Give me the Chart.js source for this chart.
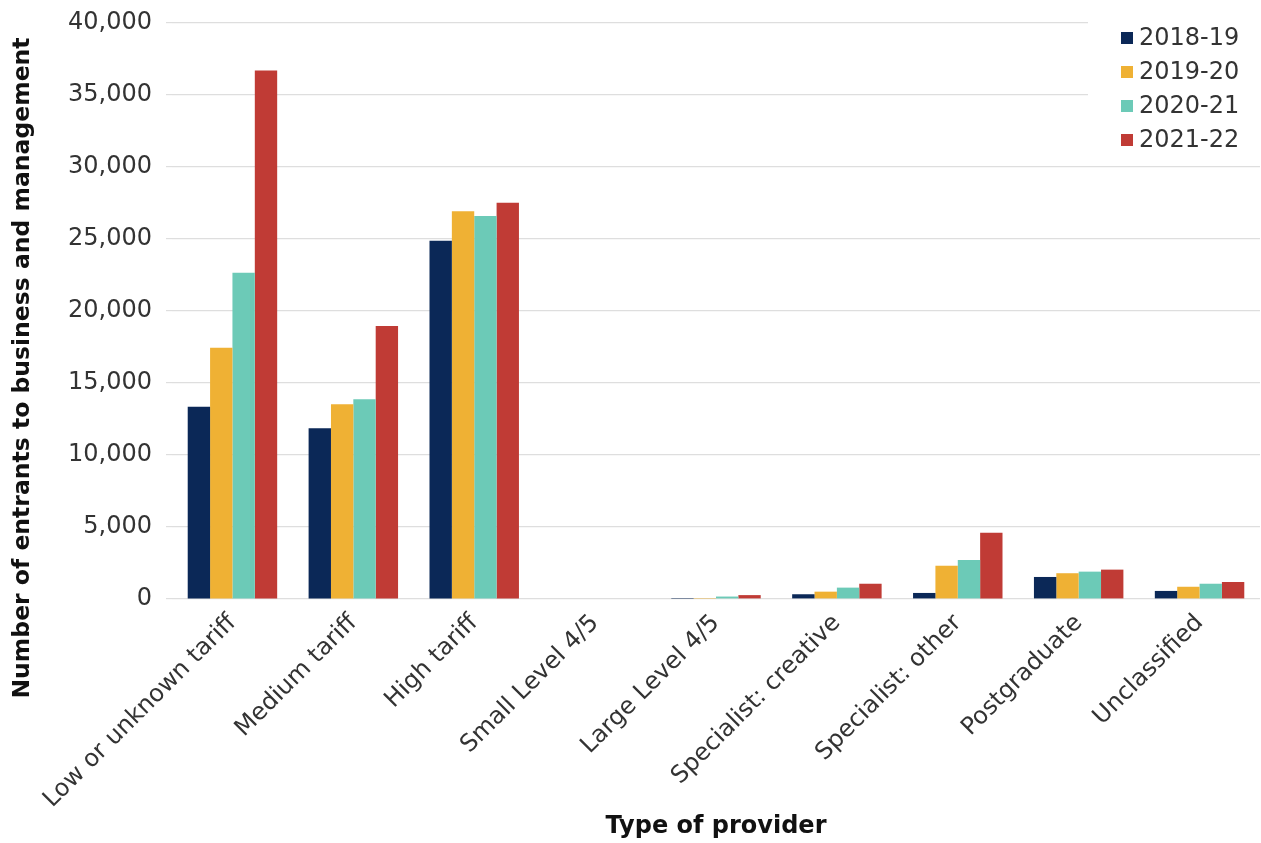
<!DOCTYPE html>
<html>
<head>
<meta charset="utf-8">
<script src="https://cdn.jsdelivr.net/npm/chart.js@4/dist/chart.umd.min.js"></script>
<style>
  html, body { margin: 0; padding: 0; background: #fff; }
  #wrap { width: 1261px; height: 843px; }
</style>
</head>
<body>
<div id="wrap"><canvas id="chart"></canvas></div>
<script>
// 제공기관 유형
const categories = [
  'Low or unknown tariff', 'Medium tariff', 'High tariff', 'Small Level 4/5',
  'Large Level 4/5', 'Specialist: creative', 'Specialist: other', 'Postgraduate', 'Unclassified'
];
const years = ['2018-19', '2019-20', '2020-21', '2021-22'];
const colors = ['#0b2857', '#efb134', '#6ccab7', '#c03b35'];

// 연도별 입학자 수
const y1819 = [13350, 11850, 24880, 0, 10, 330, 420, 1530, 560];
const y1920 = [17450, 13520, 26920, 0, 70, 510, 2310, 1790, 850];
const y2021 = [22660, 13870, 26600, 0, 170, 790, 2710, 1900, 1060];
const y2122 = [36700, 18960, 27520, 0, 270, 1060, 4600, 2040, 1180];
const series = [y1819, y1920, y2021, y2122];

const yTicks = [0, 5000, 10000, 15000, 20000, 25000, 30000, 35000, 40000];
const yTitle = 'Number of entrants to business and management';

const FONT = "'DejaVu Sans', sans-serif";

// 차트 영역 안쪽 오른쪽 위 범례 + 세로축 제목
const extras = {
  id: 'extras',
  afterDraw(chart) {
    const ctx = chart.ctx;
    const x0 = 1121, y0 = 38, step = 34;
    ctx.save();
    ctx.fillStyle = '#fff';
    ctx.fillRect(1088, 18, 173, 140);
    ctx.font = `24px ${FONT}`;
    ctx.textBaseline = 'middle';
    chart.data.datasets.forEach((ds, i) => {
      const y = y0 + i * step;
      ctx.fillStyle = ds.backgroundColor;
      ctx.fillRect(x0, y - 6, 12, 12);
      ctx.fillStyle = '#333';
      ctx.fillText(ds.label, x0 + 18, y + 1);
    });
    // 세로축 제목
    ctx.translate(23, 368);
    ctx.rotate(-Math.PI / 2);
    ctx.font = `bold 23.5px ${FONT}`;
    ctx.fillStyle = '#111';
    ctx.textAlign = 'center';
    ctx.fillText(yTitle, 0, 0);
    ctx.restore();
  }
};

new Chart(document.getElementById('chart'), {
  type: 'bar',
  data: {
    labels: categories,
    datasets: years.map((yr, i) => ({
      label: yr,
      data: series[i],
      backgroundColor: colors[i],
      barPercentage: 1,
      categoryPercentage: 0.74,
    }))
  },
  plugins: [extras],
  options: {
    responsive: true,
    maintainAspectRatio: false,
    animation: false,
    layout: { padding: { top: 23, right: 1, left: 0, bottom: 2 } },
    plugins: {
      legend: { display: false },
      tooltip: { enabled: false }
    },
    scales: {
      x: {
        grid: { display: false, drawTicks: false },
        border: { display: false },
        afterFit: (axis) => { axis.height = 242; axis.paddingLeft = 0; axis.paddingRight = 0; },
        ticks: {
          color: '#333',
          font: { family: FONT, size: 24 },
          minRotation: 45, maxRotation: 45,
          padding: 10,
        },
        title: {
          display: true,
          text: 'Type of provider',
          color: '#111',
          font: { family: FONT, size: 24, weight: 'bold' },
          padding: { top: 0, bottom: 0 }
        }
      },
      y: {
        min: 0, max: 40000,
        afterBuildTicks: (axis) => { axis.ticks = yTicks.map(v => ({ value: v })); },
        afterFit: (axis) => { axis.width = 172; axis.paddingTop = 0; axis.paddingBottom = 0; },
        grid: { color: '#dedede', lineWidth: 1.2, drawTicks: true, tickLength: 6, tickColor: '#dedede' },
        border: { display: false },
        ticks: {
          color: '#333',
          font: { family: FONT, size: 24 },
          padding: 14,
          callback: (v) => v.toLocaleString('en-GB')
        }
      }
    }
  }
});
</script>
</body>
</html>
